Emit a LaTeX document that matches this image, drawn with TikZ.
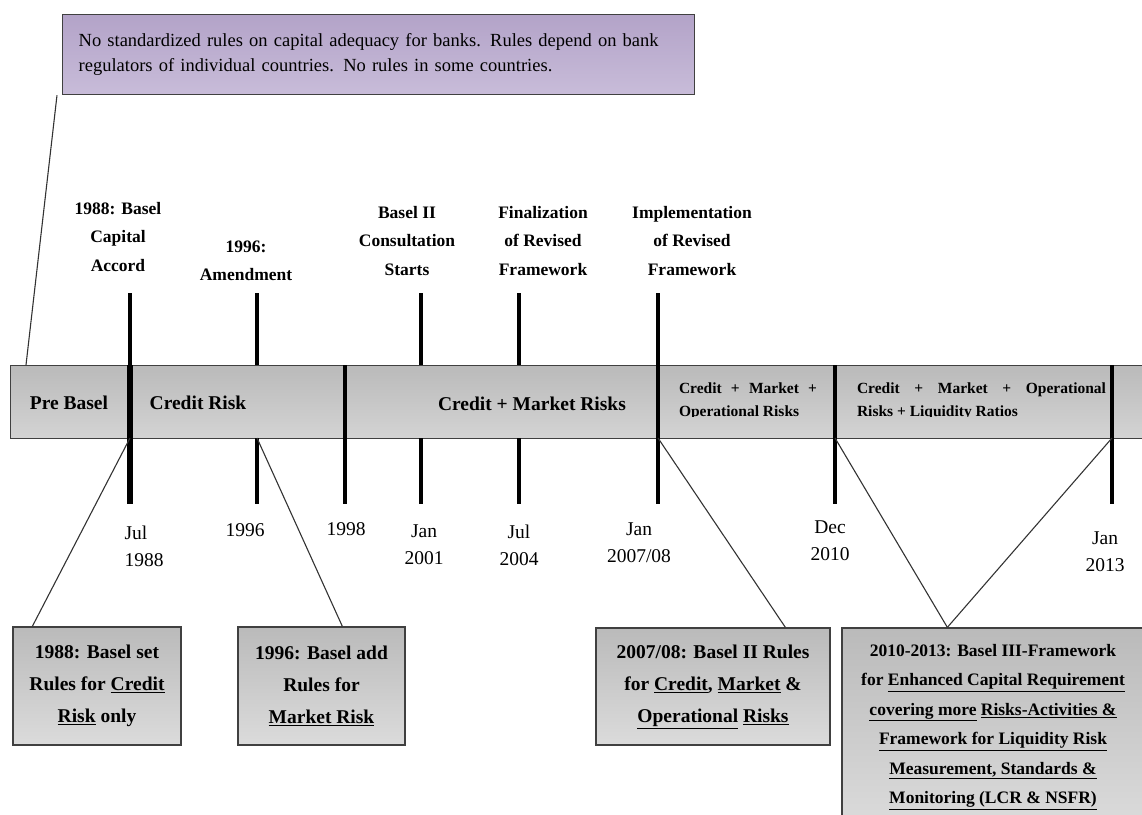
\documentclass[tikz,border=0pt]{standalone}
\usepackage{fontspec}
\setmainfont{Liberation Serif}
\usetikzlibrary{positioning}

\definecolor{notetop}{HTML}{B3A3C8}
\definecolor{notebottom}{HTML}{C8BCD9}
\definecolor{edgegray}{HTML}{404040}

\begin{document}
\begin{tikzpicture}[
    x=1pt, y=-1pt,
    band/.style={draw=edgegray, line width=1.3pt, top color=black!27, bottom color=black!17},
    notebox/.style={draw=edgegray, line width=1.3pt, top color=notetop, bottom color=notebottom,
        font=\fontsize{18.5}{25}\selectfont, align=left, inner xsep=16pt},
    rulebox/.style={draw=edgegray, line width=1.3pt, top color=black!27, bottom color=black!14,
        font=\fontsize{19.5}{32}\selectfont\bfseries, align=center},
    event/.style={font=\fontsize{17.5}{28.5}\selectfont\bfseries, align=center},
    date/.style={font=\fontsize{19.5}{27}\selectfont, align=center},
    period/.style={font=\fontsize{19.5}{23}\selectfont\bfseries},
    subperiod/.style={font=\fontsize{15.5}{23}\selectfont\bfseries, align=justify, inner sep=0pt},
    tick/.style={line width=4pt},
    link/.style={draw=black!80, line width=1.1pt}
]
    \useasboundingbox (0,0) rectangle (1142,814);

    % Note on the time before Basel
    \node[notebox, text width=600pt, minimum height=80pt, anchor=north west] (nostd) at (62,14)
        {No standardized rules on capital adequacy for banks. Rules depend on bank\\
         regulators of individual countries. No rules in some countries.};

    % Time band
    \node[band, minimum width=1140pt, minimum height=73pt, anchor=north west] (band) at (10,365) {};

    % Feet of the ticks on the band
    \coordinate (f88) at (130,438);
    \coordinate (f96) at (257,438);
    \coordinate (f07) at (658,438);
    \coordinate (f10) at (835,438);
    \coordinate (f13) at (1112,438);

    \draw[link] ([xshift=16pt]band.north west) -- ([xshift=-5pt]nostd.south west);

    % Ticks above the band
    \draw[tick] (130,293) -- (130,365);
    \draw[tick] (257,293) -- (257,365);
    \draw[tick] (421,293) -- (421,365);
    \draw[tick] (519,293) -- (519,365);
    \draw[tick] (658,293) -- (658,365);

    % Dividers through the band
    \draw[tick, line width=5.5pt] (130,365) -- (130,504);
    \draw[tick, line width=3.5pt] (345,365) -- (345,504);
    \draw[tick] (658,365) -- (658,504);
    \draw[tick] (835,365) -- (835,504);
    \draw[tick] (1112,365) -- (1112,504);

    % Ticks below the band
    \draw[tick] (257,438) -- (257,504);
    \draw[tick] (421,438) -- (421,504);
    \draw[tick] (519,438) -- (519,504);

    % Periods
    \node[period] (pre) at (69,403) {Pre Basel};
    \node[period] (credit) at (198,403) {Credit Risk};
    \node[period] (market) at (532,404) {Credit + Market Risks};
    \begin{scope}
        \clip (660,366) rectangle (1110,416);
        \node[subperiod, text width=138pt] (oper) at (748,401)
            {Credit + Market +\linebreak Operational Risks};
        \node[subperiod, text width=249pt] (liquid) at (981.5,401)
            {Credit + Market + Operational\linebreak Risks + Liquidity Ratios};
    \end{scope}

    % Events
    \node[event] (ev88) at (118,237) {1988: Basel\\Capital\\Accord};
    \node[event] (ev96) at (246,261) {1996:\\Amendment};
    \node[event] (ev01) at (407,241) {Basel II\\Consultation\\Starts};
    \node[event] (ev04) at (543,241) {Finalization\\of Revised\\Framework};
    \node[event] (ev07) at (692,241) {Implementation\\of Revised\\Framework};

    % Dates
    \node[date, align=left, anchor=west] (d88) at (121,546) {Jul\\1988};
    \node[date] (d96) at (245,530) {1996};
    \node[date] (d98) at (346,529) {1998};
    \node[date] (d01) at (424,545) {Jan\\2001};
    \node[date] (d04) at (519,545) {Jul\\2004};
    \node[date] (d07) at (639,543) {Jan\\2007/08};
    \node[date] (d10) at (830,541) {Dec\\2010};
    \node[date] (d13) at (1105,552) {Jan\\2013};

    % Rule sets
    \node[rulebox, minimum width=168pt, minimum height=118pt] (r88) at (97,686)
        {1988: Basel set\\Rules for \underline{Credit}\\\underline{Risk} only};
    \node[rulebox, minimum width=167pt, minimum height=118pt] (r96) at (321.5,686)
        {1996: Basel add\\Rules for\\\underline{Market Risk}};
    \node[rulebox, minimum width=234pt, minimum height=117pt] (r07) at (713,686.5)
        {2007/08: Basel II Rules\\for \underline{Credit}, \underline{Market} \&\\\underline{Operational} \underline{Risks}};
    \node[rulebox, font=\fontsize{17.5}{29.5}\selectfont\bfseries, minimum width=302pt, minimum height=198pt] (r10) at (993,727)
        {2010-2013: Basel III-Framework\\for \underline{Enhanced Capital Requirement}\\
         \underline{covering more} \underline{Risks-Activities \&}\\\underline{Framework for Liquidity Risk}\\
         \underline{Measurement, Standards \&}\\\underline{Monitoring (LCR \& NSFR)}};

    % Links from the band to the rule sets
    \draw[link] (f88) -- ([xshift=20pt]r88.north west);
    \draw[link] (f96) -- ([xshift=105pt]r96.north west);
    \draw[link] (f07) -- ([xshift=190pt]r07.north west);
    \draw[link] (f10) -- ([xshift=106pt]r10.north west);
    \draw[link] (f13) -- ([xshift=106pt]r10.north west);

\end{tikzpicture}
\end{document}
